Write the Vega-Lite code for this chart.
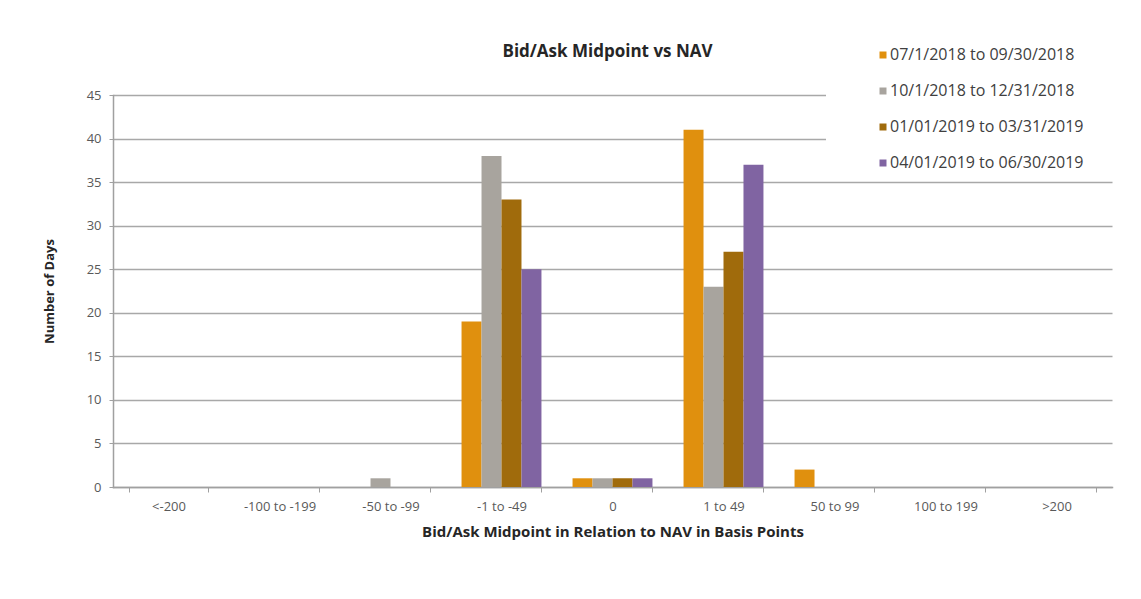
{
  "$schema": "https://vega.github.io/schema/vega-lite/v6.json",
  "width": 999,
  "height": 392,
  "autosize": {"type": "none"},
  "padding": {"left": 113, "top": 95, "right": 29, "bottom": 112},
  "background": "white",
  "title": {
    "text": "Bid/Ask Midpoint vs NAV",
    "anchor": "middle",
    "dx": -5,
    "offset": -24,
    "fontSize": 17,
    "font": "Open Sans",
    "fontWeight": "bold",
    "color": "#262626"
  },
  "data": {
    "values": [
      {"range": "<-200", "period": "07/1/2018 to 09/30/2018", "days": 0},
      {"range": "<-200", "period": "10/1/2018 to 12/31/2018", "days": 0},
      {"range": "<-200", "period": "01/01/2019 to 03/31/2019", "days": 0},
      {"range": "<-200", "period": "04/01/2019 to 06/30/2019", "days": 0},
      {"range": "-100 to -199", "period": "07/1/2018 to 09/30/2018", "days": 0},
      {"range": "-100 to -199", "period": "10/1/2018 to 12/31/2018", "days": 0},
      {"range": "-100 to -199", "period": "01/01/2019 to 03/31/2019", "days": 0},
      {"range": "-100 to -199", "period": "04/01/2019 to 06/30/2019", "days": 0},
      {"range": "-50 to -99", "period": "07/1/2018 to 09/30/2018", "days": 0},
      {"range": "-50 to -99", "period": "10/1/2018 to 12/31/2018", "days": 1},
      {"range": "-50 to -99", "period": "01/01/2019 to 03/31/2019", "days": 0},
      {"range": "-50 to -99", "period": "04/01/2019 to 06/30/2019", "days": 0},
      {"range": "-1 to -49", "period": "07/1/2018 to 09/30/2018", "days": 19},
      {"range": "-1 to -49", "period": "10/1/2018 to 12/31/2018", "days": 38},
      {"range": "-1 to -49", "period": "01/01/2019 to 03/31/2019", "days": 33},
      {"range": "-1 to -49", "period": "04/01/2019 to 06/30/2019", "days": 25},
      {"range": "0", "period": "07/1/2018 to 09/30/2018", "days": 1},
      {"range": "0", "period": "10/1/2018 to 12/31/2018", "days": 1},
      {"range": "0", "period": "01/01/2019 to 03/31/2019", "days": 1},
      {"range": "0", "period": "04/01/2019 to 06/30/2019", "days": 1},
      {"range": "1 to 49", "period": "07/1/2018 to 09/30/2018", "days": 41},
      {"range": "1 to 49", "period": "10/1/2018 to 12/31/2018", "days": 23},
      {"range": "1 to 49", "period": "01/01/2019 to 03/31/2019", "days": 27},
      {"range": "1 to 49", "period": "04/01/2019 to 06/30/2019", "days": 37},
      {"range": "50 to 99", "period": "07/1/2018 to 09/30/2018", "days": 2},
      {"range": "50 to 99", "period": "10/1/2018 to 12/31/2018", "days": 0},
      {"range": "50 to 99", "period": "01/01/2019 to 03/31/2019", "days": 0},
      {"range": "50 to 99", "period": "04/01/2019 to 06/30/2019", "days": 0},
      {"range": "100 to 199", "period": "07/1/2018 to 09/30/2018", "days": 0},
      {"range": "100 to 199", "period": "10/1/2018 to 12/31/2018", "days": 0},
      {"range": "100 to 199", "period": "01/01/2019 to 03/31/2019", "days": 0},
      {"range": "100 to 199", "period": "04/01/2019 to 06/30/2019", "days": 0},
      {"range": ">200", "period": "07/1/2018 to 09/30/2018", "days": 0},
      {"range": ">200", "period": "10/1/2018 to 12/31/2018", "days": 0},
      {"range": ">200", "period": "01/01/2019 to 03/31/2019", "days": 0},
      {"range": ">200", "period": "04/01/2019 to 06/30/2019", "days": 0}
    ]
  },
  "mark": {"type": "bar"},
  "encoding": {
    "x": {
      "field": "range",
      "type": "nominal",
      "scale": {
        "domain": ["<-200", "-100 to -199", "-50 to -99", "-1 to -49", "0", "1 to 49", "50 to 99", "100 to 199", ">200"],
        "paddingInner": 0.28,
        "paddingOuter": 0.14
      },
      "axis": {
        "title": "Bid/Ask Midpoint in Relation to NAV in Basis Points",
        "labelAngle": 0,
        "tickBand": "extent",
        "ticks": true,
        "tickSize": 5,
        "tickColor": "#a0a0a0",
        "domainColor": "#a0a0a0",
        "domainWidth": 1.5,
        "labelPadding": 8,
        "labelFontSize": 13,
        "labelFont": "Open Sans",
        "labelColor": "#595959",
        "titleFont": "Open Sans",
        "titleFontSize": 15,
        "titleFontWeight": "bold",
        "titleColor": "#262626",
        "titlePadding": 11,
        "grid": false
      }
    },
    "xOffset": {
      "field": "period",
      "type": "nominal",
      "scale": {
        "domain": ["07/1/2018 to 09/30/2018", "10/1/2018 to 12/31/2018", "01/01/2019 to 03/31/2019", "04/01/2019 to 06/30/2019"],
        "paddingInner": 0,
        "paddingOuter": 0
      }
    },
    "y": {
      "field": "days",
      "type": "quantitative",
      "scale": {"domain": [0, 45], "nice": false},
      "axis": {
        "title": "Number of Days",
        "values": [0, 5, 10, 15, 20, 25, 30, 35, 40, 45],
        "grid": true,
        "gridColor": "#a8a8a8",
        "gridWidth": 1.5,
        "domain": true,
        "domainColor": "#a0a0a0",
        "domainWidth": 1.5,
        "tickColor": "#a0a0a0",
        "tickSize": 4,
        "labelPadding": 8,
        "labelFontSize": 13,
        "labelFont": "Open Sans",
        "labelColor": "#595959",
        "titleFont": "Open Sans",
        "titleFontSize": 13,
        "titleFontWeight": "bold",
        "titleColor": "#262626",
        "titlePadding": 30
      }
    },
    "color": {
      "field": "period",
      "type": "nominal",
      "scale": {
        "domain": ["07/1/2018 to 09/30/2018", "10/1/2018 to 12/31/2018", "01/01/2019 to 03/31/2019", "04/01/2019 to 06/30/2019"],
        "range": ["#E0900E", "#A8A49E", "#A06B0C", "#8064A2"]
      },
      "legend": {
        "orient": "none",
        "legendX": 713,
        "legendY": -58,
        "title": "\u00a0",
        "titleOrient": "left",
        "titlePadding": 39,
        "padding": 10,
        "fillColor": "white",
        "symbolType": "square",
        "symbolSize": 49,
        "symbolStrokeWidth": 0,
        "labelOffset": -1,
        "labelFontSize": 16,
        "labelFont": "Open Sans",
        "labelColor": "#404040",
        "labelExpr": "datum.label + '\u2800\u2800\u2800\u2800'",
        "rowPadding": 20,
        "labelLimit": 400
      }
    }
  },
  "config": {
    "view": {"stroke": null},
    "axis": {"domainCap": "square"}
  }
}
